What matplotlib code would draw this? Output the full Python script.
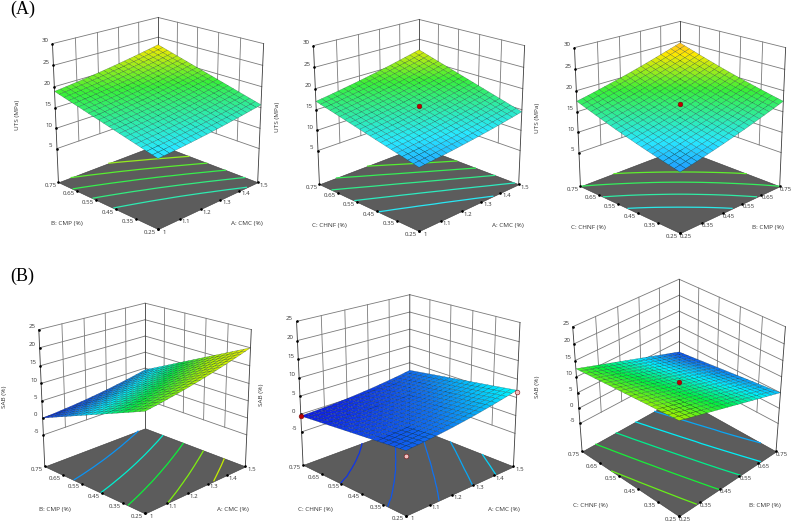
import numpy as np
import matplotlib
matplotlib.use("Agg")
import matplotlib.pyplot as plt
from matplotlib.colors import LinearSegmentedColormap, Normalize
from mpl_toolkits.mplot3d import proj3d
from mpl_toolkits.mplot3d.art3d import Poly3DCollection

plt.rcParams['font.family'] = ['Open Sans', 'DejaVu Sans']

# factor axes
cmc_ticks = [1, 1.1, 1.2, 1.3, 1.4, 1.5]
frac_ticks = [0.25, 0.35, 0.45, 0.55, 0.65, 0.75]
uts_ticks = [5, 10, 15, 20, 25, 30]
sab_ticks = [-5, 0, 5, 10, 15, 20, 25]

# response tables, rows follow the left axis, columns the right axis
uts_cmc_cmp = [
    [12.50,12.60,12.71,12.83,12.95,13.07,13.21,13.35,13.49,13.64,13.80,13.96,14.13,14.31,14.49,14.67,14.87,15.07,15.27,15.48,15.70],
    [12.82,12.92,13.04,13.16,13.28,13.40,13.55,13.69,13.83,13.98,14.15,14.31,14.48,14.66,14.85,15.03,15.23,15.43,15.64,15.85,16.07],
    [13.14,13.25,13.36,13.49,13.61,13.74,13.88,14.03,14.17,14.33,14.49,14.66,14.83,15.02,15.20,15.39,15.59,15.80,16.00,16.22,16.44],
    [13.46,13.57,13.69,13.81,13.94,14.07,14.22,14.36,14.51,14.67,14.84,15.01,15.18,15.37,15.56,15.74,15.95,16.16,16.37,16.58,16.81],
    [13.78,13.89,14.01,14.14,14.27,14.40,14.55,14.70,14.85,15.01,15.18,15.35,15.53,15.72,15.91,16.10,16.31,16.52,16.73,16.95,17.18],
    [14.10,14.21,14.34,14.47,14.60,14.73,14.89,15.04,15.19,15.35,15.53,15.70,15.88,16.07,16.27,16.46,16.67,16.88,17.10,17.32,17.55],
    [14.42,14.54,14.66,14.79,14.93,15.07,15.22,15.38,15.53,15.70,15.87,16.05,16.23,16.43,16.62,16.82,17.03,17.25,17.46,17.69,17.92],
    [14.74,14.86,14.99,15.12,15.26,15.40,15.56,15.71,15.87,16.04,16.22,16.40,16.58,16.78,16.98,17.17,17.39,17.61,17.83,18.05,18.29],
    [15.06,15.18,15.31,15.45,15.59,15.73,15.89,16.05,16.21,16.38,16.56,16.74,16.93,17.13,17.33,17.53,17.75,17.97,18.19,18.42,18.66],
    [15.38,15.50,15.64,15.78,15.92,16.06,16.23,16.39,16.55,16.72,16.91,17.09,17.28,17.48,17.69,17.89,18.11,18.33,18.56,18.79,19.03],
    [15.70,15.83,15.96,16.11,16.25,16.40,16.56,16.73,16.89,17.07,17.25,17.44,17.63,17.84,18.04,18.25,18.47,18.70,18.92,19.16,19.40],
    [16.02,16.15,16.29,16.43,16.58,16.73,16.90,17.06,17.23,17.41,17.60,17.78,17.98,18.19,18.40,18.60,18.83,19.06,19.29,19.52,19.77],
    [16.34,16.47,16.61,16.76,16.91,17.06,17.23,17.40,17.57,17.75,17.94,18.13,18.33,18.54,18.75,18.96,19.19,19.42,19.65,19.89,20.14],
    [16.66,16.79,16.94,17.09,17.24,17.39,17.57,17.74,17.91,18.09,18.29,18.48,18.68,18.89,19.11,19.32,19.55,19.78,20.02,20.26,20.51],
    [16.98,17.12,17.26,17.42,17.57,17.73,17.90,18.08,18.25,18.44,18.63,18.83,19.03,19.25,19.46,19.68,19.91,20.15,20.38,20.63,20.88],
    [17.30,17.44,17.59,17.74,17.90,18.06,18.24,18.41,18.59,18.78,18.98,19.17,19.38,19.60,19.82,20.03,20.27,20.51,20.75,20.99,21.25],
    [17.62,17.76,17.91,18.07,18.23,18.39,18.57,18.75,18.93,19.12,19.32,19.52,19.73,19.95,20.17,20.39,20.63,20.87,21.11,21.36,21.62],
    [17.94,18.08,18.24,18.40,18.56,18.72,18.91,19.09,19.27,19.46,19.67,19.87,20.08,20.30,20.53,20.75,20.99,21.23,21.48,21.73,21.99],
    [18.26,18.41,18.56,18.73,18.89,19.06,19.24,19.43,19.61,19.81,20.01,20.22,20.43,20.66,20.88,21.11,21.35,21.60,21.84,22.10,22.36],
    [18.58,18.73,18.89,19.05,19.22,19.39,19.58,19.76,19.95,20.15,20.36,20.56,20.78,21.01,21.24,21.46,21.71,21.96,22.21,22.46,22.73],
    [18.90,19.05,19.21,19.38,19.55,19.72,19.91,20.10,20.29,20.49,20.70,20.91,21.13,21.36,21.59,21.82,22.07,22.32,22.57,22.83,23.10],
]
uts_cmc_chnf = [
    [11.00,11.12,11.24,11.38,11.51,11.65,11.80,11.96,12.11,12.28,12.45,12.63,12.81,13.00,13.20,13.40,13.61,13.83,14.04,14.27,14.50],
    [11.30,11.42,11.55,11.69,11.83,11.97,12.13,12.29,12.45,12.62,12.80,12.98,13.16,13.36,13.56,13.77,13.98,14.20,14.42,14.65,14.89],
    [11.60,11.72,11.86,12.00,12.14,12.29,12.45,12.62,12.78,12.96,13.14,13.33,13.52,13.72,13.93,14.13,14.35,14.58,14.80,15.04,15.28],
    [11.90,12.03,12.17,12.31,12.46,12.62,12.78,12.95,13.12,13.30,13.49,13.68,13.87,14.08,14.29,14.50,14.73,14.96,15.18,15.43,15.67],
    [12.20,12.33,12.48,12.63,12.78,12.94,13.11,13.29,13.45,13.64,13.83,14.03,14.23,14.44,14.65,14.87,15.10,15.33,15.56,15.81,16.06],
    [12.50,12.64,12.79,12.94,13.10,13.26,13.44,13.62,13.79,13.98,14.18,14.38,14.58,14.79,15.02,15.24,15.47,15.71,15.95,16.20,16.45],
    [12.80,12.94,13.09,13.25,13.42,13.59,13.76,13.95,14.13,14.32,14.52,14.73,14.93,15.15,15.38,15.61,15.84,16.09,16.33,16.58,16.84],
    [13.10,13.25,13.40,13.57,13.73,13.91,14.09,14.28,14.46,14.66,14.87,15.08,15.29,15.51,15.74,15.97,16.21,16.46,16.71,16.97,17.23],
    [13.40,13.55,13.71,13.88,14.05,14.23,14.42,14.61,14.80,15.00,15.21,15.43,15.64,15.87,16.10,16.34,16.59,16.84,17.09,17.36,17.62],
    [13.70,13.86,14.02,14.19,14.37,14.55,14.74,14.94,15.13,15.34,15.56,15.78,16.00,16.23,16.47,16.71,16.96,17.22,17.47,17.74,18.01],
    [14.00,14.16,14.33,14.51,14.69,14.88,15.07,15.27,15.47,15.68,15.90,16.13,16.35,16.59,16.83,17.08,17.33,17.59,17.85,18.13,18.40],
    [14.30,14.47,14.64,14.82,15.01,15.20,15.40,15.60,15.80,16.02,16.25,16.48,16.70,16.95,17.19,17.44,17.70,17.97,18.23,18.51,18.79],
    [14.60,14.77,14.95,15.13,15.32,15.52,15.72,15.93,16.14,16.36,16.59,16.83,17.06,17.30,17.56,17.81,18.07,18.35,18.61,18.90,19.18],
    [14.90,15.07,15.26,15.45,15.64,15.84,16.05,16.26,16.47,16.70,16.94,17.18,17.41,17.66,17.92,18.18,18.45,18.72,19.00,19.28,19.57],
    [15.20,15.38,15.57,15.76,15.96,16.17,16.38,16.60,16.81,17.04,17.28,17.52,17.77,18.02,18.28,18.55,18.82,19.10,19.38,19.67,19.96],
    [15.50,15.68,15.87,16.07,16.28,16.49,16.71,16.93,17.15,17.38,17.63,17.87,18.12,18.38,18.65,18.92,19.19,19.48,19.76,20.06,20.35],
    [15.80,15.99,16.18,16.39,16.60,16.81,17.03,17.26,17.48,17.72,17.97,18.22,18.47,18.74,19.01,19.28,19.56,19.85,20.14,20.44,20.74],
    [16.10,16.29,16.49,16.70,16.91,17.13,17.36,17.59,17.82,18.06,18.32,18.57,18.83,19.10,19.37,19.65,19.93,20.23,20.52,20.83,21.13],
    [16.40,16.60,16.80,17.01,17.23,17.46,17.69,17.92,18.15,18.40,18.66,18.92,19.18,19.45,19.73,20.02,20.31,20.61,20.90,21.21,21.52],
    [16.70,16.90,17.11,17.33,17.55,17.78,18.01,18.25,18.49,18.74,19.01,19.27,19.54,19.81,20.10,20.39,20.68,20.98,21.28,21.60,21.91],
    [17.00,17.21,17.42,17.64,17.87,18.10,18.34,18.58,18.83,19.08,19.35,19.62,19.89,20.17,20.46,20.75,21.05,21.36,21.66,21.99,22.30],
]
uts_cmp_chnf = [
    [10.40,10.69,10.98,11.29,11.60,11.92,12.24,12.57,12.90,13.25,13.60,13.96,14.32,14.70,15.08,15.47,15.86,16.26,16.66,17.08,17.50],
    [10.69,10.97,11.27,11.57,11.89,12.20,12.53,12.85,13.19,13.53,13.89,14.24,14.61,14.98,15.37,15.75,16.15,16.54,16.95,17.36,17.79],
    [10.98,11.27,11.56,11.87,12.18,12.50,12.82,13.15,13.48,13.83,14.18,14.54,14.90,15.28,15.66,16.05,16.44,16.84,17.24,17.66,18.08],
    [11.29,11.57,11.87,12.17,12.49,12.80,13.13,13.45,13.79,14.13,14.49,14.84,15.21,15.58,15.97,16.35,16.75,17.14,17.55,17.96,18.39],
    [11.60,11.89,12.18,12.49,12.80,13.12,13.44,13.77,14.10,14.45,14.80,15.16,15.52,15.90,16.28,16.67,17.06,17.46,17.86,18.28,18.70],
    [11.92,12.20,12.50,12.80,13.12,13.43,13.76,14.08,14.42,14.76,15.12,15.47,15.84,16.21,16.60,16.98,17.38,17.77,18.18,18.59,19.02],
    [12.24,12.53,12.82,13.13,13.44,13.76,14.08,14.41,14.74,15.09,15.44,15.80,16.16,16.54,16.92,17.31,17.70,18.10,18.50,18.92,19.34],
    [12.57,12.85,13.15,13.45,13.77,14.08,14.41,14.73,15.07,15.41,15.77,16.12,16.49,16.86,17.25,17.63,18.03,18.42,18.83,19.24,19.67],
    [12.90,13.19,13.48,13.79,14.10,14.42,14.74,15.07,15.40,15.75,16.10,16.46,16.82,17.20,17.58,17.97,18.36,18.76,19.16,19.58,20.00],
    [13.25,13.53,13.83,14.13,14.45,14.76,15.09,15.41,15.75,16.09,16.45,16.80,17.17,17.54,17.93,18.31,18.71,19.10,19.51,19.92,20.35],
    [13.60,13.89,14.18,14.49,14.80,15.12,15.44,15.77,16.10,16.45,16.80,17.16,17.52,17.90,18.28,18.67,19.06,19.46,19.86,20.28,20.70],
    [13.96,14.24,14.54,14.84,15.16,15.47,15.80,16.12,16.46,16.80,17.16,17.51,17.88,18.25,18.64,19.02,19.42,19.81,20.22,20.63,21.06],
    [14.32,14.61,14.90,15.21,15.52,15.84,16.16,16.49,16.82,17.17,17.52,17.88,18.24,18.62,19.00,19.39,19.78,20.18,20.58,21.00,21.42],
    [14.70,14.98,15.28,15.58,15.90,16.21,16.54,16.86,17.20,17.54,17.90,18.25,18.62,18.99,19.38,19.76,20.16,20.55,20.96,21.37,21.80],
    [15.08,15.37,15.66,15.97,16.28,16.60,16.92,17.25,17.58,17.93,18.28,18.64,19.00,19.38,19.76,20.15,20.54,20.94,21.34,21.76,22.18],
    [15.47,15.75,16.05,16.35,16.67,16.98,17.31,17.63,17.97,18.31,18.67,19.02,19.39,19.76,20.15,20.53,20.93,21.32,21.73,22.14,22.57],
    [15.86,16.15,16.44,16.75,17.06,17.38,17.70,18.03,18.36,18.71,19.06,19.42,19.78,20.16,20.54,20.93,21.32,21.72,22.12,22.54,22.96],
    [16.26,16.54,16.84,17.14,17.46,17.77,18.10,18.42,18.76,19.10,19.46,19.81,20.18,20.55,20.94,21.32,21.72,22.11,22.52,22.93,23.36],
    [16.66,16.95,17.24,17.55,17.86,18.18,18.50,18.83,19.16,19.51,19.86,20.22,20.58,20.96,21.34,21.73,22.12,22.52,22.92,23.34,23.76],
    [17.08,17.36,17.66,17.96,18.28,18.59,18.92,19.24,19.58,19.92,20.28,20.63,21.00,21.37,21.76,22.14,22.54,22.93,23.34,23.75,24.18],
    [17.50,17.79,18.08,18.39,18.70,19.02,19.34,19.67,20.00,20.35,20.70,21.06,21.42,21.80,22.18,22.57,22.96,23.36,23.76,24.18,24.60],
]
sab_cmc_cmp = [
    [12.80,13.05,13.30,13.57,13.86,14.15,14.46,14.77,15.10,15.45,15.80,16.17,16.54,16.93,17.34,17.75,18.18,18.61,19.06,19.53,20.00],
    [12.16,12.40,12.65,12.91,13.19,13.48,13.78,14.08,14.41,14.75,15.09,15.46,15.82,16.20,16.60,17.01,17.43,17.85,18.30,18.76,19.22],
    [11.52,11.76,11.99,12.25,12.53,12.80,13.10,13.40,13.71,14.05,14.38,14.74,15.10,15.47,15.87,16.27,16.68,17.10,17.53,17.99,18.45],
    [10.88,11.11,11.34,11.59,11.86,12.13,12.42,12.71,13.02,13.35,13.68,14.03,14.38,14.75,15.13,15.52,15.93,16.34,16.77,17.22,17.67],
    [10.24,10.46,10.69,10.93,11.19,11.45,11.74,12.02,12.32,12.65,12.97,13.31,13.65,14.02,14.40,14.78,15.18,15.59,16.01,16.45,16.90],
    [9.60,9.82,10.03,10.27,10.52,10.78,11.06,11.33,11.63,11.94,12.26,12.60,12.93,13.29,13.66,14.04,14.43,14.83,15.25,15.68,16.12],
    [8.96,9.17,9.38,9.61,9.86,10.11,10.37,10.64,10.93,11.24,11.55,11.88,12.21,12.56,12.93,13.30,13.69,14.08,14.49,14.91,15.34],
    [8.32,8.52,8.72,8.95,9.19,9.43,9.69,9.96,10.24,10.54,10.84,11.17,11.49,11.83,12.19,12.56,12.94,13.32,13.72,14.14,14.57],
    [7.68,7.87,8.07,8.29,8.52,8.76,9.01,9.27,9.54,9.84,10.13,10.45,10.77,11.10,11.46,11.81,12.19,12.57,12.96,13.37,13.79],
    [7.04,7.23,7.42,7.63,7.86,8.08,8.33,8.58,8.85,9.14,9.43,9.74,10.05,10.37,10.72,11.07,11.44,11.81,12.20,12.61,13.02],
    [6.40,6.58,6.76,6.97,7.19,7.41,7.65,7.89,8.16,8.44,8.72,9.02,9.32,9.65,9.99,10.33,10.69,11.05,11.44,11.84,12.24],
    [5.76,5.93,6.11,6.31,6.52,6.74,6.97,7.21,7.46,7.73,8.01,8.31,8.60,8.92,9.25,9.59,9.94,10.30,10.67,11.07,11.46],
    [5.12,5.28,5.46,5.65,5.85,6.06,6.29,6.52,6.77,7.03,7.30,7.59,7.88,8.19,8.52,8.85,9.19,9.54,9.91,10.30,10.69],
    [4.48,4.64,4.80,4.99,5.19,5.39,5.61,5.83,6.07,6.33,6.60,6.88,7.16,7.46,7.78,8.10,8.45,8.79,9.15,9.53,9.91],
    [3.84,3.99,4.15,4.33,4.52,4.71,4.93,5.14,5.38,5.63,5.89,6.16,6.44,6.73,7.05,7.36,7.70,8.03,8.39,8.76,9.14],
    [3.20,3.34,3.49,3.67,3.85,4.04,4.25,4.46,4.68,4.93,5.18,5.45,5.72,6.00,6.31,6.62,6.95,7.28,7.62,7.99,8.36],
    [2.56,2.70,2.84,3.01,3.19,3.37,3.57,3.77,3.99,4.23,4.47,4.73,4.99,5.28,5.58,5.88,6.20,6.52,6.86,7.22,7.58],
    [1.92,2.05,2.19,2.35,2.52,2.69,2.88,3.08,3.30,3.53,3.76,4.02,4.27,4.55,4.84,5.14,5.45,5.77,6.10,6.45,6.81],
    [1.28,1.40,1.53,1.69,1.85,2.02,2.20,2.39,2.60,2.83,3.06,3.30,3.55,3.82,4.11,4.39,4.70,5.01,5.34,5.68,6.03],
    [0.64,0.76,0.88,1.03,1.18,1.34,1.52,1.71,1.91,2.13,2.35,2.59,2.83,3.09,3.37,3.65,3.95,4.25,4.57,4.91,5.26],
    [0.00,0.11,0.22,0.37,0.52,0.67,0.84,1.02,1.21,1.42,1.64,1.87,2.11,2.36,2.64,2.91,3.20,3.50,3.81,4.15,4.48],
]
sab_cmc_chnf = [
    [2.30,2.43,2.55,2.70,2.86,3.03,3.21,3.40,3.60,3.83,4.05,4.30,4.54,4.81,5.09,5.38,5.68,5.99,6.31,6.65,7.00],
    [2.16,2.29,2.40,2.55,2.71,2.87,3.05,3.23,3.43,3.66,3.87,4.12,4.36,4.62,4.90,5.18,5.48,5.79,6.10,6.44,6.79],
    [2.02,2.14,2.26,2.40,2.55,2.71,2.88,3.07,3.26,3.48,3.70,3.94,4.17,4.43,4.70,4.99,5.28,5.58,5.90,6.23,6.57],
    [1.88,2.00,2.11,2.25,2.40,2.55,2.72,2.90,3.09,3.31,3.52,3.76,3.99,4.24,4.51,4.79,5.08,5.38,5.69,6.02,6.36],
    [1.74,1.85,1.96,2.10,2.24,2.39,2.56,2.74,2.92,3.13,3.34,3.58,3.80,4.05,4.32,4.60,4.88,5.17,5.48,5.81,6.14],
    [1.60,1.71,1.81,1.95,2.09,2.24,2.40,2.57,2.75,2.96,3.16,3.39,3.62,3.87,4.13,4.40,4.68,4.97,5.27,5.59,5.93],
    [1.46,1.57,1.67,1.79,1.93,2.08,2.24,2.40,2.58,2.79,2.99,3.21,3.43,3.68,3.93,4.20,4.48,4.77,5.07,5.38,5.71],
    [1.32,1.42,1.52,1.64,1.78,1.92,2.07,2.24,2.41,2.61,2.81,3.03,3.25,3.49,3.74,4.01,4.28,4.56,4.86,5.17,5.50],
    [1.18,1.28,1.37,1.49,1.62,1.76,1.91,2.07,2.24,2.44,2.63,2.85,3.06,3.30,3.55,3.81,4.08,4.36,4.65,4.96,5.28],
    [1.04,1.13,1.22,1.34,1.47,1.60,1.75,1.91,2.07,2.26,2.45,2.67,2.88,3.11,3.36,3.62,3.88,4.15,4.44,4.75,5.07],
    [0.90,0.99,1.08,1.19,1.31,1.44,1.59,1.74,1.90,2.09,2.27,2.49,2.69,2.92,3.17,3.42,3.68,3.95,4.23,4.54,4.85],
    [0.76,0.85,0.93,1.04,1.16,1.28,1.42,1.57,1.73,1.92,2.10,2.31,2.51,2.73,2.97,3.22,3.48,3.75,4.03,4.33,4.64],
    [0.62,0.70,0.78,0.89,1.00,1.12,1.26,1.41,1.56,1.74,1.92,2.13,2.32,2.54,2.78,3.03,3.28,3.54,3.82,4.12,4.42],
    [0.48,0.56,0.63,0.74,0.85,0.96,1.10,1.24,1.39,1.57,1.74,1.95,2.14,2.35,2.59,2.83,3.08,3.34,3.61,3.91,4.21],
    [0.34,0.41,0.49,0.59,0.69,0.80,0.94,1.08,1.22,1.39,1.56,1.76,1.95,2.16,2.40,2.64,2.88,3.13,3.40,3.69,3.99],
    [0.20,0.27,0.34,0.44,0.54,0.65,0.78,0.91,1.05,1.22,1.39,1.58,1.77,1.97,2.20,2.44,2.68,2.93,3.19,3.48,3.78],
    [0.06,0.13,0.19,0.28,0.38,0.49,0.61,0.74,0.88,1.05,1.21,1.40,1.58,1.79,2.01,2.24,2.48,2.73,2.99,3.27,3.56],
    [-0.08,-0.02,0.04,0.13,0.23,0.33,0.45,0.58,0.71,0.87,1.03,1.22,1.40,1.60,1.82,2.05,2.28,2.52,2.78,3.06,3.35],
    [-0.22,-0.16,-0.10,-0.02,0.07,0.17,0.29,0.41,0.54,0.70,0.85,1.04,1.21,1.41,1.63,1.85,2.08,2.32,2.57,2.85,3.13],
    [-0.36,-0.31,-0.25,-0.17,-0.08,0.01,0.12,0.25,0.37,0.52,0.68,0.86,1.03,1.22,1.43,1.66,1.88,2.11,2.36,2.64,2.92],
    [-0.50,-0.45,-0.40,-0.32,-0.24,-0.15,-0.04,0.08,0.20,0.35,0.50,0.68,0.84,1.03,1.24,1.46,1.68,1.91,2.15,2.43,2.70],
]
sab_cmp_chnf = [
    [15.00,14.50,14.00,13.50,13.00,12.50,12.00,11.50,11.00,10.50,10.00,9.50,9.00,8.50,8.00,7.50,7.00,6.50,6.00,5.50,5.00],
    [14.88,14.37,13.87,13.37,12.86,12.36,11.86,11.35,10.85,10.35,9.85,9.34,8.84,8.34,7.83,7.33,6.83,6.32,5.82,5.32,4.83],
    [14.75,14.25,13.74,13.23,12.73,12.22,11.72,11.21,10.71,10.20,9.70,9.19,8.68,8.18,7.67,7.17,6.66,6.15,5.65,5.14,4.65],
    [14.63,14.12,13.61,13.10,12.59,12.08,11.58,11.07,10.56,10.05,9.55,9.03,8.52,8.02,7.51,7.00,6.49,5.98,5.47,4.96,4.48],
    [14.50,13.99,13.48,12.97,12.46,11.95,11.44,10.93,10.42,9.91,9.40,8.88,8.37,7.86,7.35,6.84,6.32,5.81,5.30,4.79,4.30],
    [14.38,13.86,13.35,12.83,12.32,11.81,11.30,10.78,10.27,9.76,9.25,8.72,8.21,7.70,7.18,6.67,6.15,5.64,5.13,4.61,4.13],
    [14.25,13.73,13.22,12.70,12.19,11.67,11.16,10.64,10.13,9.61,9.10,8.57,8.05,7.54,7.02,6.51,5.99,5.47,4.96,4.44,3.95],
    [14.13,13.61,13.09,12.57,12.05,11.53,11.02,10.50,9.98,9.46,8.95,8.41,7.89,7.38,6.86,6.34,5.82,5.30,4.78,4.26,3.78],
    [14.00,13.48,12.96,12.44,11.92,11.40,10.88,10.36,9.84,9.32,8.80,8.26,7.74,7.22,6.70,6.18,5.65,5.13,4.61,4.09,3.60],
    [13.88,13.35,12.83,12.31,11.78,11.26,10.74,10.21,9.69,9.17,8.65,8.10,7.58,7.06,6.53,6.01,5.48,4.96,4.44,3.91,3.43],
    [13.75,13.23,12.70,12.18,11.65,11.13,10.60,10.08,9.55,9.03,8.50,7.98,7.45,6.93,6.40,5.88,5.35,4.83,4.30,3.78,3.25],
    [13.63,13.10,12.57,12.04,11.52,10.99,10.46,9.93,9.41,8.88,8.35,7.82,7.29,6.77,6.24,5.71,5.18,4.65,4.13,3.60,3.08],
    [13.50,12.97,12.44,11.91,11.38,10.85,10.32,9.79,9.26,8.73,8.20,7.67,7.14,6.61,6.08,5.55,5.02,4.49,3.96,3.43,2.90],
    [13.38,12.84,12.31,11.78,11.25,10.71,10.18,9.65,9.12,8.58,8.05,7.52,6.99,6.45,5.92,5.39,4.85,4.32,3.79,3.26,2.73],
    [13.25,12.72,12.18,11.65,11.11,10.58,10.04,9.51,8.97,8.44,7.90,7.37,6.83,6.30,5.76,5.23,4.69,4.16,3.62,3.09,2.55],
    [13.13,12.59,12.05,11.51,10.98,10.44,9.90,9.36,8.83,8.29,7.75,7.21,6.68,6.14,5.60,5.06,4.53,3.99,3.45,2.91,2.38],
    [13.00,12.46,11.92,11.38,10.84,10.30,9.76,9.22,8.68,8.14,7.60,7.06,6.52,5.98,5.44,4.90,4.36,3.82,3.28,2.74,2.20],
    [12.88,12.33,11.79,11.25,10.70,10.16,9.62,9.07,8.53,7.99,7.45,6.90,6.36,5.82,5.27,4.73,4.19,3.64,3.10,2.56,2.03],
    [12.75,12.21,11.66,11.12,10.57,10.03,9.48,8.94,8.39,7.85,7.30,6.76,6.21,5.67,5.12,4.58,4.03,3.49,2.94,2.40,1.85],
    [12.63,12.08,11.53,10.98,10.44,9.89,9.34,8.79,8.25,7.70,7.15,6.60,6.05,5.51,4.96,4.41,3.86,3.31,2.77,2.22,1.68],
    [12.50,11.95,11.40,10.85,10.30,9.75,9.20,8.65,8.10,7.55,7.00,6.45,5.90,5.35,4.80,4.25,3.70,3.15,2.60,2.05,1.50],
]

uts_levels_1 = [15.2, 16.55, 17.9, 19.25, 20.6]
uts_levels_2 = [13.3, 14.75, 16.2, 17.65, 19.1]
uts_levels_3 = [13.6, 15.5, 17.5, 19.4]
sab_levels_1 = [4.0, 7.5, 10.8, 13.9, 17.0]
sab_levels_2 = [0.6, 1.85, 3.15, 4.5, 5.8]
sab_levels_3 = [13.3, 11.1, 8.9, 6.7, 4.5]

uts_stops = [(8.0, '#1c50ff'), (13.0, '#28e8ff'), (18.5, '#38f038'), (23.0, '#ffe800'),
             (25.0, '#ffb030'), (27.0, '#ff8000'), (30.0, '#ff0000')]
sab_stops = [(-1.0, '#1010e0'), (3.0, '#1070f0'), (6.5, '#00f0ff'), (10.5, '#00f040'),
             (15.0, '#a8f000'), (20.0, '#f0f000'), (25.0, '#ff0000')]


def make_cmap(stops):
    lo, hi = stops[0][0], stops[-1][0]
    nodes = [((v - lo) / (hi - lo), c) for v, c in stops]
    return LinearSegmentedColormap.from_list('response', nodes), Normalize(lo, hi)


panels = [
    dict(z=uts_cmc_cmp, xt=cmc_ticks, yt=frac_ticks, zt=uts_ticks, floor=-3.5, levels=uts_levels_1,
         stops=uts_stops, xname='A: CMC (%)', yname='B: CMP (%)', zname='UTS (MPa)',
         c=(154, 119), elev=20.5, azim=-135, zoom=0.818, h=1.02,
         xpos=(247, 224), ypos=(67, 224), zpos=(17, 115), marks=[]),
    dict(z=uts_cmc_chnf, xt=cmc_ticks, yt=frac_ticks, zt=uts_ticks, floor=-3.5, levels=uts_levels_2,
         stops=uts_stops, xname='A: CMC (%)', yname='C: CHNF (%)', zname='UTS (MPa)',
         c=(415, 121), elev=20.5, azim=-135, zoom=0.818, h=1.02,
         xpos=(508, 226), ypos=(329, 226), zpos=(278, 117), marks=[(1.25, 0.5, 15.9, '#c00000')]),
    dict(z=uts_cmp_chnf, xt=frac_ticks, yt=frac_ticks, zt=uts_ticks, floor=-3.5, levels=uts_levels_3,
         stops=uts_stops, xname='B: CMP (%)', yname='C: CHNF (%)', zname='UTS (MPa)',
         c=(676, 123), elev=20.5, azim=-135, zoom=0.818, h=1.02,
         xpos=(768, 228), ypos=(588, 228), zpos=(538, 118), marks=[(0.5, 0.5, 16.8, '#c00000')]),
    dict(z=sab_cmc_cmp, xt=cmc_ticks, yt=frac_ticks, zt=sab_ticks, floor=-14.5, levels=sab_levels_1,
         stops=sab_stops, xname='A: CMC (%)', yname='B: CMP (%)', zname='SAB (%)',
         c=(141, 404), elev=20.5, azim=-135, zoom=0.818, h=1.0,
         xpos=(233, 509), ypos=(55, 509), zpos=(5, 397), marks=[]),
    dict(z=sab_cmc_chnf, xt=cmc_ticks, yt=frac_ticks, zt=sab_ticks, floor=-14.5, levels=sab_levels_2,
         stops=sab_stops, xname='A: CMC (%)', yname='C: CHNF (%)', zname='SAB (%)',
         c=(404, 400), elev=20.5, azim=-134, zoom=0.859, h=1.0,
         xpos=(504, 510), ypos=(315, 510), zpos=(261, 395),
         marks=[(1.0, 0.75, -0.5, '#c00000'), (1.5, 0.25, 6.4, '#f4c0c0'), (1.0, 0.25, 0.9, '#f4c0c0')]),
    dict(z=sab_cmp_chnf, xt=frac_ticks, yt=frac_ticks, zt=sab_ticks, floor=-14.5, levels=sab_levels_3,
         stops=sab_stops, xname='B: CMP (%)', yname='C: CHNF (%)', zname='SAB (%)',
         c=(675, 396), elev=33.5, azim=-135, zoom=0.815, h=1.04,
         xpos=(765, 505), ypos=(590, 505), zpos=(537, 387), marks=[(0.5, 0.5, 8.5, '#c00000')]),
]

W, H = 793, 524
fig = plt.figure(figsize=(W / 100, H / 100), dpi=100, facecolor='white')
GRID = '#7a7a7a'
EDGE = '#3a3a3a'
TEXT = '#333333'
SIDE = 300


def draw_panel(p):
    cx, cy = p['c']
    ax = fig.add_axes([(cx - SIDE / 2) / W, 1 - (cy + SIDE / 2) / H, SIDE / W, SIDE / H], projection='3d')
    ax.computed_zorder = False
    ax.set_axis_off()
    ax.patch.set_alpha(0)
    xt, yt, zt = p['xt'], p['yt'], p['zt']
    x0, x1, y0, y1 = xt[0], xt[-1], yt[0], yt[-1]
    z0, z1 = p['floor'], zt[-1]
    ax.set_xlim(x0, x1)
    ax.set_ylim(y0, y1)
    ax.set_zlim(z0, z1)
    ax.set_box_aspect((1, 1, p['h']), zoom=p['zoom'])
    ax.set_proj_type('persp', focal_length=0.55)
    ax.view_init(elev=p['elev'], azim=p['azim'])

    # back walls
    for v in zt:
        ax.plot([x0, x1], [y1, y1], [v, v], color=GRID, lw=0.6, zorder=1)
        ax.plot([x1, x1], [y0, y1], [v, v], color=GRID, lw=0.6, zorder=1)
    for v in xt[1:-1]:
        ax.plot([v, v], [y1, y1], [zt[0], z1], color=GRID, lw=0.6, zorder=1)
    for v in yt[1:-1]:
        ax.plot([x1, x1], [v, v], [zt[0], z1], color=GRID, lw=0.6, zorder=1)
    for a, b in [(x0, y1), (x1, y1), (x1, y0)]:
        ax.plot([a, a], [b, b], [z0, z1], color=EDGE, lw=0.6, zorder=1)

    # floor with response contours
    floor = Poly3DCollection([[(x0, y0, z0), (x1, y0, z0), (x1, y1, z0), (x0, y1, z0)]],
                             facecolor='#5c5c5c', edgecolor='#3a3a3a', linewidth=0.4, zorder=2)
    ax.add_collection3d(floor)
    cmap, norm = make_cmap(p['stops'])
    table = np.array(p['z'], dtype=float)
    gx = np.linspace(x0, x1, table.shape[1])
    gy = np.linspace(y0, y1, table.shape[0])
    X, Y = np.meshgrid(gx, gy)
    ax.contour(X, Y, table, levels=sorted(p['levels']), zdir='z', offset=z0, cmap=cmap, norm=norm,
               linewidths=0.9, zorder=3)

    # response surface
    ax.plot_surface(X, Y, table, cmap=cmap, norm=norm, shade=False, edgecolor=(0.0, 0.12, 0.12, 0.6),
                    linewidth=0.22, rstride=1, cstride=1, antialiased=True, zorder=4)

    for mx, my, mz, mc in p['marks']:
        ax.plot([mx], [my], [mz], 'o', color=mc, mec='#701010', mew=0.4, ms=3.4, zorder=5)

    # tick marks and labels
    ax.plot(xt, [y0] * len(xt), [z0] * len(xt), 'o', color='k', ms=0.9, zorder=3)
    ax.plot([x0] * len(yt), yt, [z0] * len(yt), 'o', color='k', ms=0.9, zorder=3)
    ax.plot([x0] * len(zt), [y1] * len(zt), zt, 'o', color='k', ms=0.9, zorder=3)

    M = ax.get_proj()

    def label(x, y, z, s, off):
        px, py, _ = proj3d.proj_transform(x, y, z, M)
        ax.annotate(s, (px, py), xytext=off, textcoords='offset pixels', fontsize=4.4,
                    ha='center', va='center', color=TEXT, annotation_clip=False)

    for v in xt:
        label(v, y0, z0, f'{v:g}', (6, -3))
    for v in yt:
        label(x0, v, z0, f'{v:g}', (-8, -3))
    for v in zt:
        label(x0, y1, v, f'{v:g}', (-7, 3))

    fig.text(p['xpos'][0] / W, 1 - p['xpos'][1] / H, p['xname'], fontsize=4.6, ha='center', va='center', color=TEXT)
    fig.text(p['ypos'][0] / W, 1 - p['ypos'][1] / H, p['yname'], fontsize=4.6, ha='center', va='center', color=TEXT)
    fig.text(p['zpos'][0] / W, 1 - p['zpos'][1] / H, p['zname'], fontsize=4.6, ha='center', va='center', rotation=90, color=TEXT)


for p in panels:
    draw_panel(p)

fig.text(10 / W, 1 - 9 / H, '(A)', family='Liberation Serif', fontsize=13, ha='left', va='center')
fig.text(10 / W, 1 - 276 / H, '(B)', family='Liberation Serif', fontsize=13, ha='left', va='center')
fig.savefig('out.png', dpi=100)
